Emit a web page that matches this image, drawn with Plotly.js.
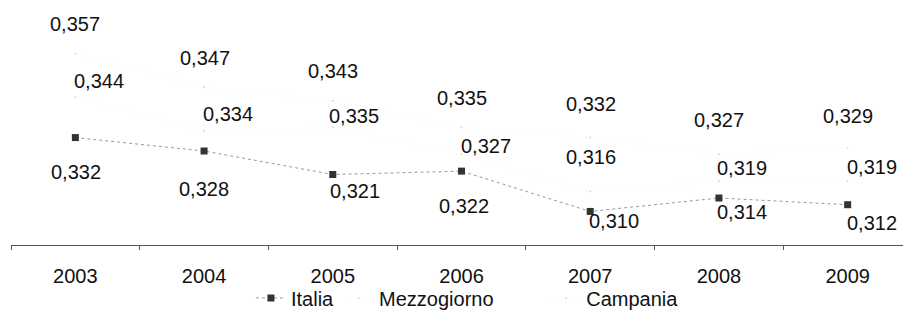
<!DOCTYPE html>
<html>
<head>
<meta charset="utf-8">
<script src="https://cdn.plot.ly/plotly-3.0.1.min.js"></script>
<style>
  html, body { margin: 0; padding: 0; background: #ffffff; }
  #chart { width: 903px; height: 322px; }
</style>
</head>
<body>
<div id="chart"></div>
<script>
// ---- data ----
const years = ['2003', '2004', '2005', '2006', '2007', '2008', '2009'];
const italia = [0.332, 0.328, 0.321, 0.322, 0.310, 0.314, 0.312];
const mezzogiorno = [0.344, 0.334, 0.335, 0.327, 0.316, 0.319, 0.319];
const campania = [0.357, 0.347, 0.343, 0.335, 0.332, 0.327, 0.329];
const seriesNames = ['Italia', 'Mezzogiorno', 'Campania'];

// ---- label placement (pixel offsets from each point: [dx, dy], dy positive = down) ----
const italiaLabelOffsets = [[1, 34], [0, 38], [22, 16], [2, 35], [24, 10], [23, 14], [24, 18]];
const mezzoLabelOffsets = [[24, -16], [24, -17], [21, -12], [24, -8], [1, -34], [23, -13], [24, -14]];
const campaniaLabelOffsets = [[0, -30], [1, -29], [0, -30], [0, -30], [1, -34], [0, -34], [0, -32]];

const FONT = 'Liberation Sans, Arial, Helvetica, sans-serif';
const FS = 20;
const fmt = v => v.toFixed(3).replace('.', ',');

const traces = [
  {
    x: years, y: italia, name: seriesNames[0], type: 'scatter', mode: 'lines+markers',
    line: { color: '#9a9a9a', width: 1, dash: 'dot' },
    marker: { symbol: 'square', size: 7, color: '#333333' },
    hoverinfo: 'skip', legend: 'legend'
  },
  {
    x: years, y: mezzogiorno, name: seriesNames[1], type: 'scatter', mode: 'lines+markers',
    line: { color: '#fcfcfc', width: 1 },
    marker: { symbol: 'circle', size: 2, color: '#dadada' },
    hoverinfo: 'skip', legend: 'legend'
  },
  {
    x: years, y: campania, name: seriesNames[2], type: 'scatter', mode: 'lines+markers',
    line: { color: '#fcfcfc', width: 1 },
    marker: { symbol: 'circle', size: 2, color: '#dadada' },
    hoverinfo: 'skip', legend: 'legend2'
  }
];

const annotations = [];
function addLabels(values, offsets) {
  values.forEach((v, i) => {
    annotations.push({
      x: i, y: v, xref: 'x', yref: 'y',
      text: fmt(v), showarrow: false,
      xshift: offsets[i][0], yshift: -offsets[i][1],
      xanchor: 'center', yanchor: 'middle',
      font: { family: FONT, size: FS, color: '#111111' }
    });
  });
}
addLabels(italia, italiaLabelOffsets);
addLabels(mezzogiorno, mezzoLabelOffsets);
addLabels(campania, campaniaLabelOffsets);

const legendFont = { family: FONT, size: FS, color: '#111111' };

const layout = {
  width: 903, height: 322,
  margin: { l: 11, r: 0, t: 10, b: 77, pad: 0 },
  paper_bgcolor: '#ffffff', plot_bgcolor: '#ffffff',
  font: { family: FONT, size: FS, color: '#111111' },
  showlegend: true,
  legend: {
    orientation: 'h', x: 0.269, xanchor: 'left', y: -0.225, yanchor: 'middle',
    font: legendFont, bgcolor: 'rgba(0,0,0,0)', itemwidth: 30
  },
  legend2: {
    orientation: 'h', x: 0.600, xanchor: 'left', y: -0.225, yanchor: 'middle',
    font: legendFont, bgcolor: 'rgba(0,0,0,0)', itemwidth: 30
  },
  xaxis: {
    type: 'category', range: [-0.5, 6.43],
    showline: true, linecolor: '#555555', linewidth: 1,
    ticks: 'outside', tickson: 'boundaries', ticklen: 4, tickcolor: '#555555',
    ticklabelstandoff: 13,
    showgrid: false, zeroline: false,
    tickfont: { family: FONT, size: FS, color: '#111111' }
  },
  yaxis: {
    range: [0.30, 0.37], visible: false, showgrid: false, zeroline: false
  },
  annotations: annotations
};

Plotly.newPlot('chart', traces, layout, { displayModeBar: false, staticPlot: true });
</script>
</body>
</html>
